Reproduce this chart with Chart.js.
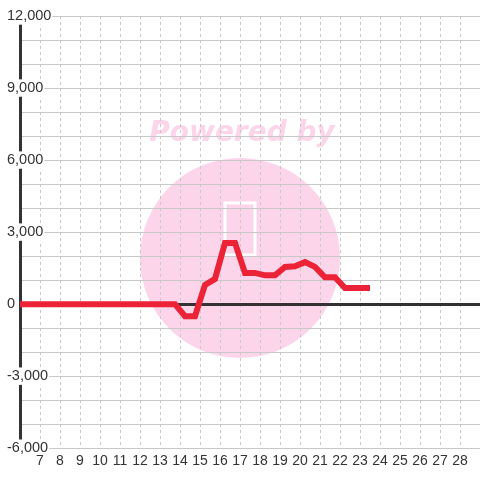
<!DOCTYPE html>
<html>
<head>
<meta charset="utf-8">
<script src="https://cdn.jsdelivr.net/npm/chart.js@4/dist/chart.umd.min.js"></script>
<style>
  html, body { margin: 0; padding: 0; background: #fff; }
  #wrap { width: 480px; height: 480px; position: relative; }
</style>
</head>
<body>
<div id="wrap"><canvas id="chart"></canvas></div>
<script>
// values (x in days, y in units)
const xValues = [5.75, 6.25, 6.75, 7.25, 7.75, 8.25, 8.75, 9.25, 9.75, 10.25, 10.75, 11.25, 11.75,
  12.25, 12.75, 13.25, 13.75, 14.25, 14.75, 15.25, 15.75, 16.25, 16.75, 17.25, 17.75, 18.25, 18.75,
  19.25, 19.75, 20.25, 20.75, 21.25, 21.75, 22.25, 22.75, 23.25, 23.5];
const yValues = [0, 0, 0, 0, 0, 0, 0, 0, 0, 0, 0, 0, 0,
  0, 0, 0, 0, -500, -500, 800, 1050, 2550, 2550, 1300, 1300, 1200, 1200,
  1550, 1580, 1750, 1550, 1120, 1120, 670, 670, 670, 670];
const xLabelMin = 7, xLabelMax = 28;
const yLabelStep = 3000;

const LINE_RED = '#ec2236';
const AXIS_DARK = '#333333';
const GRID_GREY = '#c8c8c8';
const WATERMARK_PINK = '#fcd5ea';
const FONT = '"Liberation Sans", Arial, sans-serif';

// faint "Powered by" watermark sitting under the grid
const watermark = {
  id: 'watermark',
  beforeDraw(chart) {
    const c = chart.ctx;
    c.save();
    c.fillStyle = WATERMARK_PINK;
    c.beginPath();
    c.arc(240, 258, 100, 0, Math.PI * 2);
    c.fill();
    c.font = 'italic bold 28px "DejaVu Sans", sans-serif';
    c.textAlign = 'center';
    c.textBaseline = 'middle';
    c.fillText('Powered by', 242, 134);
    c.strokeStyle = '#ffffff';
    c.lineWidth = 3;
    c.strokeRect(225, 203, 30, 52);
    c.restore();
  }
};

new Chart(document.getElementById('chart'), {
  type: 'line',
  data: {
    datasets: [{
      data: xValues.map((x, i) => ({ x: x, y: yValues[i] })),
      borderColor: LINE_RED,
      borderWidth: 6,
      borderJoinStyle: 'miter',
      pointRadius: 0,
      tension: 0,
      fill: false
    }]
  },
  options: {
    responsive: true,
    maintainAspectRatio: false,
    animation: false,
    layout: { padding: { left: 20, top: 16, right: 0, bottom: 5 } },
    plugins: { legend: { display: false }, tooltip: { enabled: false } },
    scales: {
      x: {
        type: 'linear',
        min: 6, max: 29,
        grid: { color: GRID_GREY, lineWidth: 1, drawTicks: false },
        border: { display: false, dash: [3, 3] },
        ticks: {
          z: 1,
          stepSize: 1,
          padding: 5,
          color: AXIS_DARK,
          font: { family: FONT, size: 14 },
          maxRotation: 0,
          autoSkip: false,
          callback: v => (v >= xLabelMin && v <= xLabelMax) ? String(v) : ''
        },
        afterFit: s => { s.paddingLeft = 0; s.paddingRight = 0; }
      },
      y: {
        min: -6000, max: 12000,
        grid: {
          drawTicks: false,
          color: ctx => ctx.tick && ctx.tick.value === 0 ? AXIS_DARK : GRID_GREY,
          lineWidth: ctx => ctx.tick && ctx.tick.value === 0 ? 3 : 1
        },
        border: { display: true, color: AXIS_DARK, width: 3 },
        ticks: {
          stepSize: 1000,
          mirror: true,
          crossAlign: 'near',
          padding: -13,
          color: AXIS_DARK,
          font: { family: FONT, size: 14.5 },
          showLabelBackdrop: true,
          backdropColor: ctx => (ctx.tick && ctx.tick.value % yLabelStep === 0) ? '#ffffff' : 'rgba(0,0,0,0)',
          backdropPadding: { x: 1, y: 0 },
          callback: v => v % yLabelStep === 0 ? v.toLocaleString('en-US') : ''
        },
        afterFit: s => { s.width = 0; s.paddingLeft = 0; s.paddingRight = 0; }
      }
    }
  },
  plugins: [watermark]
});
</script>
</body>
</html>
